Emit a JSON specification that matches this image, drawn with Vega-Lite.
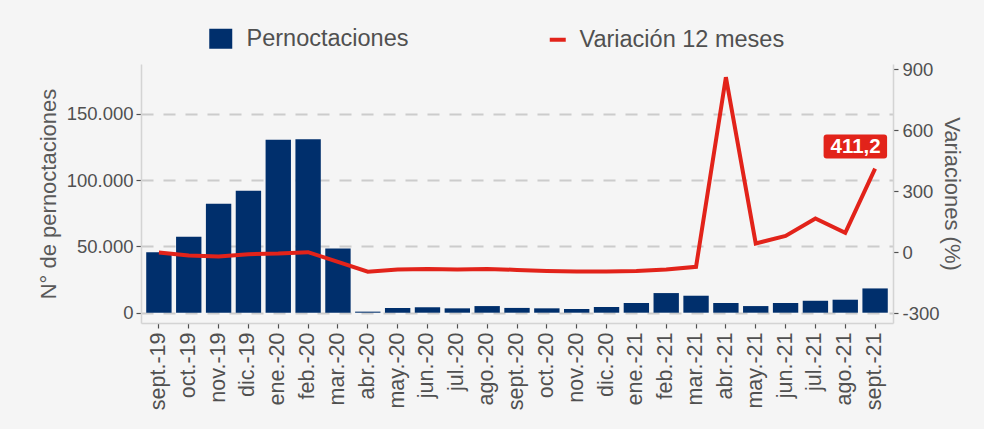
{
  "$schema": "https://vega.github.io/schema/vega-lite/v6.json",
  "width": 752,
  "height": 259,
  "autosize": {"type": "none"},
  "padding": {"left": 141, "top": 64, "right": 91, "bottom": 106},
  "background": "#f5f5f5",
  "config": {
    "font": "Liberation Sans",
    "view": {"stroke": null, "fill": "#f5f5f5"},
    "axis": {
      "domainColor": "#d4d4d4",
      "domainWidth": 1.5,
      "tickColor": "#505050",
      "tickWidth": 1.2,
      "tickSize": 5,
      "labelColor": "#505050",
      "titleColor": "#595959",
      "titleFontWeight": "normal",
      "titleFontSize": 22,
      "labelFont": "Liberation Sans",
      "titleFont": "Liberation Sans"
    },
    "legend": {"labelFont": "Liberation Sans", "labelColor": "#505050"}
  },
  "data": {
    "values": [
      {"mes": "sept.-19", "pern": 45600, "var": -2},
      {"mes": "oct.-19", "pern": 57200, "var": -16},
      {"mes": "nov.-19", "pern": 82200, "var": -21},
      {"mes": "dic.-19", "pern": 92000, "var": -10},
      {"mes": "ene.-20", "pern": 130400, "var": -7},
      {"mes": "feb.-20", "pern": 130800, "var": 0},
      {"mes": "mar.-20", "pern": 48400, "var": -48},
      {"mes": "abr.-20", "pern": 800, "var": -96},
      {"mes": "may.-20", "pern": 3600, "var": -85},
      {"mes": "jun.-20", "pern": 4100, "var": -82},
      {"mes": "jul.-20", "pern": 3300, "var": -85},
      {"mes": "ago.-20", "pern": 5000, "var": -82},
      {"mes": "sept.-20", "pern": 3600, "var": -87},
      {"mes": "oct.-20", "pern": 3300, "var": -92},
      {"mes": "nov.-20", "pern": 2800, "var": -95},
      {"mes": "dic.-20", "pern": 4300, "var": -95},
      {"mes": "ene.-21", "pern": 7300, "var": -92},
      {"mes": "feb.-21", "pern": 14800, "var": -85},
      {"mes": "mar.-21", "pern": 12800, "var": -72},
      {"mes": "abr.-21", "pern": 7300, "var": 860},
      {"mes": "may.-21", "pern": 5000, "var": 43},
      {"mes": "jun.-21", "pern": 7300, "var": 80},
      {"mes": "jul.-21", "pern": 9000, "var": 166},
      {"mes": "ago.-21", "pern": 9800, "var": 95},
      {"mes": "sept.-21", "pern": 18300, "var": 411.2, "etiqueta": "411,2"}
    ]
  },
  "encoding": {
    "x": {
      "field": "mes",
      "type": "nominal",
      "sort": null,
      "scale": {"paddingInner": 0.15, "paddingOuter": 0.175},
      "axis": {
        "title": null,
        "labelAngle": 270,
        "labelFontSize": 21.5,
        "labelPadding": 4,
        "tickSize": 5
      }
    }
  },
  "layer": [
    {
      "mark": {"type": "bar"},
      "encoding": {
        "y": {
          "field": "pern",
          "type": "quantitative",
          "scale": {"domain": [-7760, 187470], "nice": false, "zero": false},
          "axis": {
            "orient": "left",
            "values": [0, 50000, 100000, 150000],
            "labelExpr": "replace(format(datum.value, ','), ',', '.')",
            "title": "N° de pernoctaciones",
            "grid": true,
            "gridDash": [12, 10],
            "gridColor": "#cccccc",
            "gridWidth": 2,
            "labelFontSize": 18.5,
            "labelPadding": 3,
            "titlePadding": 6
          }
        },
        "color": {
          "datum": "Pernoctaciones",
          "type": "nominal",
          "scale": {"range": ["#002f6c"]},
          "legend": {
            "orient": "none",
            "legendX": 68,
            "legendY": -37,
            "title": null,
            "padding": 0,
            "symbolType": "M-1.15,-1L1.15,-1L1.15,1L-1.15,1Z",
            "symbolSize": 400,
            "symbolStrokeWidth": 0,
            "labelFontSize": 23.5,
            "labelLimit": 400,
            "labelOffset": 14
          }
        }
      }
    },
    {
      "layer": [
        {
          "mark": {"type": "line", "strokeWidth": 4},
          "encoding": {
            "y": {
              "field": "var",
              "type": "quantitative",
              "scale": {"domain": [-348, 925], "nice": false, "zero": false},
              "axis": {
                "orient": "right",
                "values": [-300, 0, 300, 600, 900],
                "labelExpr": "'' + datum.value",
                "title": "Variaciones (%)",
                "grid": false,
                "labelFontSize": 18.5,
                "labelPadding": 4,
                "titlePadding": 0
              }
            },
            "stroke": {
              "datum": "Variación 12 meses",
              "type": "nominal",
              "scale": {"range": ["#e2231a"]},
              "legend": {
                "orient": "none",
                "legendX": 405,
                "legendY": -36,
                "title": null,
                "padding": 0,
                "symbolType": "stroke",
                "symbolSize": 256,
                "symbolStrokeWidth": 4,
                "labelFontSize": 23.5,
                "labelLimit": 400,
                "labelOffset": 10
              }
            }
          }
        },
        {
          "transform": [{"filter": "datum.etiqueta"}],
          "mark": {
            "type": "point",
            "shape": "M-4.85,-3.4L0.9,-3.4Q1.2,-3.4 1.2,-3.1L1.2,-1.3Q1.2,-1.0 0.9,-1.0L-4.85,-1.0Q-5.15,-1.0 -5.15,-1.3L-5.15,-3.1Q-5.15,-3.4 -4.85,-3.4Z",
            "filled": true,
            "size": 400,
            "color": "#e2231a",
            "opacity": 1,
            "strokeWidth": 0
          },
          "encoding": {
            "y": {
              "field": "var",
              "type": "quantitative",
              "axis": {
                "orient": "right",
                "values": [-300, 0, 300, 600, 900],
                "labelExpr": "'' + datum.value",
                "title": "Variaciones (%)",
                "grid": false,
                "labelFontSize": 18.5,
                "labelPadding": 4,
                "titlePadding": 0
              }
            }
          }
        },
        {
          "transform": [{"filter": "datum.etiqueta"}],
          "mark": {
            "type": "text",
            "dx": -19.5,
            "dy": -22,
            "fontSize": 20.5,
            "fontWeight": "bold",
            "color": "white",
            "align": "center",
            "baseline": "middle"
          },
          "encoding": {
            "y": {
              "field": "var",
              "type": "quantitative",
              "axis": {
                "orient": "right",
                "values": [-300, 0, 300, 600, 900],
                "labelExpr": "'' + datum.value",
                "title": "Variaciones (%)",
                "grid": false,
                "labelFontSize": 18.5,
                "labelPadding": 4,
                "titlePadding": 0
              }
            },
            "text": {"field": "etiqueta"}
          }
        }
      ]
    }
  ],
  "resolve": {"scale": {"y": "independent"}}
}
